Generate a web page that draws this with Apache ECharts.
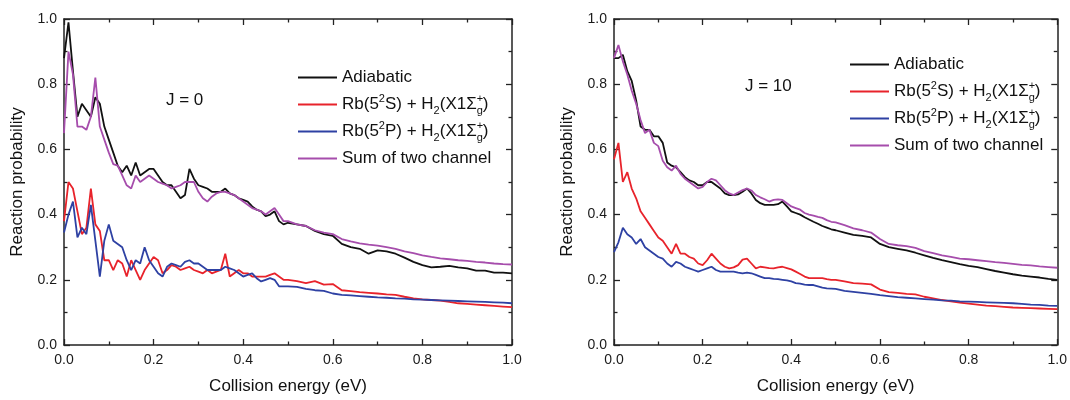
<!DOCTYPE html>
<html><head><meta charset="utf-8">
<script src="https://cdn.jsdelivr.net/npm/echarts@6/dist/echarts.min.js"></script>
<style>html,body{margin:0;padding:0;background:#fff}#c{width:1070px;height:400px}</style>
</head><body><div id="c"></div>
<script>
// ---------------- DATA ----------------
const energy = [0,0.01,0.02,0.03,0.04,0.05,0.06,0.07,0.08,0.09,
 0.10,0.11,0.12,0.13,0.14,0.15,0.16,0.17,0.18,0.19,
 0.20,0.21,0.22,0.23,0.24,0.25,0.26,0.27,0.28,0.29,
 0.30,0.31,0.32,0.33,0.34,0.35,0.36,0.37,0.38,0.39,
 0.40,0.41,0.42,0.43,0.44,0.45,0.46,0.47,0.48,0.49,
 0.50,0.52,0.54,0.56,0.58,0.60,0.62,0.64,0.66,0.68,
 0.70,0.72,0.74,0.76,0.78,0.80,0.82,0.84,0.86,0.88,
 0.90,0.92,0.94,0.96,0.98,1.00];

// J = 0
const adiabaticJ0 = [0.88,0.99,0.84,0.70,0.74,0.72,0.70,0.76,0.74,0.67,
 0.63,0.59,0.55,0.53,0.55,0.52,0.56,0.52,0.53,0.54,
 0.54,0.52,0.50,0.49,0.49,0.47,0.45,0.46,0.54,0.51,
 0.49,0.485,0.48,0.47,0.47,0.47,0.48,0.465,0.46,0.45,
 0.445,0.44,0.425,0.415,0.41,0.395,0.40,0.41,0.38,0.37,
 0.375,0.37,0.365,0.35,0.34,0.335,0.31,0.30,0.295,0.28,
 0.29,0.287,0.28,0.268,0.255,0.245,0.238,0.24,0.243,0.238,
 0.235,0.228,0.228,0.222,0.222,0.22];
const rbSJ0 = [0.38,0.50,0.48,0.41,0.34,0.36,0.48,0.37,0.35,0.26,
 0.26,0.23,0.26,0.25,0.21,0.26,0.23,0.20,0.23,0.25,
 0.27,0.26,0.22,0.23,0.245,0.24,0.23,0.235,0.24,0.23,
 0.225,0.22,0.23,0.22,0.225,0.23,0.28,0.21,0.22,0.23,
 0.22,0.22,0.21,0.21,0.21,0.21,0.215,0.22,0.21,0.20,
 0.20,0.196,0.19,0.196,0.185,0.187,0.168,0.165,0.162,0.16,
 0.158,0.155,0.154,0.148,0.143,0.14,0.138,0.136,0.132,0.128,
 0.126,0.124,0.122,0.12,0.118,0.116];
const rbPJ0 = [0.345,0.40,0.44,0.33,0.36,0.34,0.43,0.32,0.21,0.32,
 0.37,0.32,0.31,0.30,0.26,0.23,0.26,0.25,0.30,0.26,
 0.24,0.22,0.21,0.24,0.25,0.245,0.24,0.255,0.26,0.25,
 0.25,0.24,0.23,0.23,0.23,0.23,0.24,0.235,0.23,0.22,
 0.21,0.215,0.22,0.205,0.195,0.20,0.205,0.20,0.18,0.18,
 0.18,0.178,0.172,0.168,0.166,0.158,0.154,0.152,0.15,0.148,
 0.146,0.145,0.143,0.142,0.14,0.139,0.138,0.137,0.136,0.135,
 0.134,0.133,0.132,0.131,0.13,0.128];
const sumJ0 = [0.65,0.90,0.83,0.67,0.67,0.66,0.70,0.82,0.67,0.63,
 0.59,0.555,0.55,0.52,0.49,0.48,0.52,0.50,0.51,0.52,
 0.51,0.50,0.495,0.49,0.48,0.485,0.49,0.50,0.50,0.50,
 0.47,0.45,0.44,0.455,0.465,0.47,0.47,0.465,0.46,0.45,
 0.44,0.43,0.42,0.415,0.41,0.40,0.41,0.42,0.40,0.38,
 0.38,0.37,0.365,0.352,0.345,0.34,0.325,0.318,0.312,0.308,
 0.305,0.30,0.295,0.287,0.282,0.275,0.27,0.266,0.263,0.26,
 0.258,0.255,0.253,0.25,0.248,0.247];

// J = 10
const adiabaticJ10 = [0.88,0.88,0.89,0.84,0.81,0.75,0.67,0.66,0.66,0.64,
 0.64,0.62,0.56,0.55,0.545,0.53,0.515,0.505,0.50,0.49,
 0.49,0.50,0.50,0.49,0.48,0.465,0.46,0.46,0.462,0.47,
 0.48,0.465,0.445,0.435,0.43,0.43,0.43,0.432,0.44,0.425,
 0.41,0.405,0.40,0.392,0.385,0.378,0.372,0.365,0.36,0.355,
 0.352,0.345,0.338,0.335,0.33,0.31,0.30,0.295,0.29,0.283,
 0.275,0.267,0.26,0.254,0.248,0.243,0.239,0.233,0.227,0.222,
 0.217,0.213,0.21,0.207,0.203,0.20];
const rbSJ10 = [0.57,0.62,0.50,0.53,0.48,0.45,0.41,0.39,0.37,0.35,
 0.33,0.32,0.30,0.28,0.31,0.28,0.28,0.27,0.265,0.25,
 0.245,0.26,0.28,0.265,0.25,0.24,0.235,0.238,0.245,0.262,
 0.265,0.25,0.235,0.24,0.238,0.236,0.235,0.238,0.24,0.236,
 0.232,0.225,0.218,0.21,0.205,0.205,0.205,0.205,0.202,0.20,
 0.20,0.195,0.19,0.188,0.186,0.17,0.162,0.16,0.157,0.155,
 0.148,0.143,0.138,0.134,0.13,0.127,0.124,0.121,0.119,0.117,
 0.115,0.114,0.113,0.112,0.111,0.11];
const rbPJ10 = [0.285,0.315,0.36,0.34,0.33,0.31,0.325,0.30,0.29,0.28,
 0.27,0.265,0.25,0.24,0.255,0.25,0.24,0.235,0.23,0.225,
 0.23,0.235,0.24,0.23,0.225,0.225,0.225,0.225,0.222,0.22,
 0.222,0.22,0.215,0.21,0.205,0.205,0.203,0.202,0.20,0.198,
 0.195,0.19,0.188,0.185,0.184,0.184,0.18,0.176,0.174,0.173,
 0.172,0.166,0.163,0.16,0.157,0.153,0.15,0.147,0.145,0.143,
 0.141,0.139,0.137,0.136,0.134,0.133,0.132,0.131,0.13,0.129,
 0.128,0.126,0.124,0.123,0.121,0.12];
const sumJ10 = [0.88,0.92,0.87,0.83,0.78,0.74,0.69,0.65,0.66,0.62,
 0.61,0.565,0.545,0.535,0.55,0.525,0.51,0.50,0.49,0.48,
 0.485,0.50,0.51,0.505,0.49,0.475,0.465,0.46,0.468,0.475,
 0.48,0.474,0.46,0.453,0.447,0.44,0.445,0.447,0.445,0.435,
 0.425,0.42,0.415,0.405,0.40,0.397,0.393,0.39,0.383,0.378,
 0.376,0.368,0.358,0.352,0.345,0.325,0.31,0.306,0.303,0.298,
 0.288,0.282,0.275,0.27,0.265,0.263,0.26,0.257,0.254,0.252,
 0.249,0.246,0.244,0.241,0.239,0.237];

const seriesNames = ['Adiabatic','Rb(5²S) + H₂(X1Σg⁺)','Rb(5²P) + H₂(X1Σg⁺)','Sum of two channel'];
const panelLabels = ['J = 0','J = 10'];
const xTitle = 'Collision energy (eV)';
const yTitle = 'Reaction probability';

// ---------------- CHART ----------------
const FONT = '"Liberation Sans", Arial, Helvetica, sans-serif';
const colors = ['#111111','#e8232b','#2e41a3','#a64dac'];
const panels = [
  [adiabaticJ0, rbSJ0, rbPJ0, sumJ0],
  [adiabaticJ10, rbSJ10, rbPJ10, sumJ10]
];
const gridDefs = [{left:64, top:19, width:448, height:330},{left:614, top:19, width:446, height:330}];
const legendPos = [{left:293, top:61},{left:845, top:48}];
const labelPos = [{left:166, top:92},{left:745, top:78}];

const axisColor = '#222';
const lineAx = {onZero:false, lineStyle:{color:axisColor, width:1.5}};
const tick = {inside:true, length:6, lineStyle:{color:axisColor, width:1.3}};
const minor = {show:true, splitNumber:2, length:3.5, lineStyle:{color:axisColor, width:1.3}};
const lblStyle = {fontFamily:FONT, fontSize:14, color:'#1a1a1a'};

const xAxis = [], yAxis = [], series = [], legend = [], graphic = [];
const legendFormatter = n => {
  if (n === seriesNames[1]) return '{t|Rb(5}{sup|2}{t|S) + H}{sub|2}{t|(X1Σ}{sp|+}{sb|g}{t|)}';
  if (n === seriesNames[2]) return '{t|Rb(5}{sup|2}{t|P) + H}{sub|2}{t|(X1Σ}{sp|+}{sb|g}{t|)}';
  return '{t|' + n + '}';
};
const rich = {
  t:{fontFamily:FONT, fontSize:17, lineHeight:23, color:'#111'},
  sup:{fontFamily:FONT, fontSize:11, lineHeight:14, verticalAlign:'top', color:'#111'},
  sub:{fontFamily:FONT, fontSize:11, lineHeight:12, verticalAlign:'bottom', color:'#111'},
  sp:{fontFamily:FONT, fontSize:11, lineHeight:14, verticalAlign:'top', width:0, color:'#111'},
  sb:{fontFamily:FONT, fontSize:11, lineHeight:12, verticalAlign:'bottom', color:'#111'}
};

gridDefs.forEach((g, gi) => {
  xAxis.push({gridIndex:gi, type:'value', min:0, max:1, interval:0.2, position:'bottom',
    name:xTitle, nameLocation:'middle', nameGap:33,
    nameTextStyle:{fontFamily:FONT, fontSize:17, color:'#111'},
    axisLine:lineAx, axisTick:tick, minorTick:minor,
    axisLabel:Object.assign({margin:8, formatter:v => v.toFixed(1)}, lblStyle),
    splitLine:{show:false}, minorSplitLine:{show:false}});
  xAxis.push({gridIndex:gi, type:'value', min:0, max:1, interval:0.2, position:'top',
    axisLine:lineAx, axisTick:tick, minorTick:minor, axisLabel:{show:false},
    splitLine:{show:false}});
  yAxis.push({gridIndex:gi, type:'value', min:0, max:1, interval:0.2, position:'left',
    name:yTitle, nameLocation:'middle', nameGap:38, nameRotate:90,
    nameTextStyle:{fontFamily:FONT, fontSize:17, color:'#111'},
    axisLine:lineAx, axisTick:tick, minorTick:minor,
    axisLabel:Object.assign({margin:7, formatter:v => v.toFixed(1)}, lblStyle),
    splitLine:{show:false}});
  yAxis.push({gridIndex:gi, type:'value', min:0, max:1, interval:0.2, position:'right',
    axisLine:lineAx, axisTick:tick, minorTick:minor, axisLabel:{show:false},
    splitLine:{show:false}});
  panels[gi].forEach((ys, si) => {
    series.push({type:'line', name:seriesNames[si], xAxisIndex:gi*2, yAxisIndex:gi*2,
      data: energy.map((x, i) => [x, ys[i]]),
      showSymbol:false, symbol:'none', smooth:false,
      lineStyle:{color:colors[si], width:1.8}, itemStyle:{color:colors[si]},
      emphasis:{disabled:true}, z:2+si});
  });
  legend.push({orient:'vertical', left:legendPos[gi].left, top:legendPos[gi].top,
    itemWidth:39, itemHeight:2, itemGap:4, icon:'rect', selectedMode:false,
    data:seriesNames, formatter:legendFormatter,
    textStyle:{fontFamily:FONT, fontSize:17, color:'#111', lineHeight:23, rich:rich}});
  graphic.push({type:'text', left:labelPos[gi].left, top:labelPos[gi].top,
    style:{text:panelLabels[gi], fontFamily:FONT, fontSize:17, fill:'#111'}});
});

const chart = echarts.init(document.getElementById('c'), null, {renderer:'canvas'});
chart.setOption({
  animation:false, backgroundColor:'#fff',
  grid:gridDefs, xAxis, yAxis, series, legend, graphic
});
</script>
</body></html>
